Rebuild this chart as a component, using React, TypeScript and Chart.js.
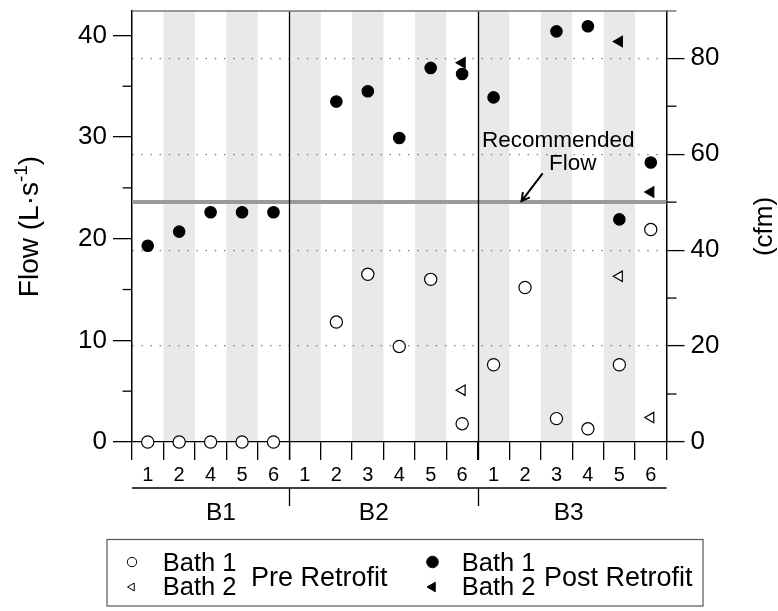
import React, { useEffect, useRef } from 'react';
import { Chart, registerables } from 'chart.js';

Chart.register(...registerables);

// ---------- data ----------
const categories = ['1', '2', '4', '5', '6', '1', '2', '3', '4', '5', '6', '1', '2', '3', '4', '5', '6'];
const groupNames = ['B1', 'B2', 'B3'];
const groupSizes = [5, 6, 6];

const preBath1 = [0, 0, 0, 0, 0, null, 11.8, 16.5, 9.4, 16.0, 1.8, 7.6, 15.2, 2.3, 1.3, 7.6, 20.9];
const preBath2 = [null, null, null, null, null, null, null, null, null, null, 5.1, null, null, null, null, 16.3, 2.4];
const postBath1 = [19.3, 20.7, 22.6, 22.6, 22.6, null, 33.5, 34.5, 29.9, 36.8, 36.2, 33.9, null, 40.4, 40.9, 21.9, 27.5];
const postBath2 = [null, null, null, null, null, null, null, null, null, null, 37.3, null, null, null, null, 39.4, 24.6];

const yTicksLs = [0, 10, 20, 30, 40];
const yMinorLs = [5, 15, 25, 35];
const yTicksCfm = [0, 20, 40, 60, 80];
const yMinorCfm = [10, 30, 50, 70];
const recommendedFlowLs = 23.6;
const CFM_TO_LS = 0.471947;
const yMaxLs = 42.4;

// ---------- layout / style ----------
const W = 778;
const H = 611;
const FONT = "'Liberation Sans', Arial, Helvetica, sans-serif";
const groupLabelPos = [2.33, 7.19, 13.39];
const recTextPos = { x: 10.63, y: 29.0 };
const flowTextPos = { x: 12.76, y: 26.75 };
const arrowFrom = { x: 12.56, y: 26.42 };
const arrowTo = { x: 11.89, y: recommendedFlowLs };

function triPath(ctx: CanvasRenderingContext2D, cx: number, cy: number, r: number) {
  ctx.beginPath();
  ctx.moveTo(cx - r, cy);
  ctx.lineTo(cx + r / 2, cy - r * 0.866);
  ctx.lineTo(cx + r / 2, cy + r * 0.866);
  ctx.closePath();
}

const decor = {
  id: 'decor',
  beforeDraw(chart: any) {
    const { ctx, chartArea: a, scales } = chart;
    const x = scales.x;
    ctx.save();
    ctx.fillStyle = '#e9e9e9';
    categories.forEach((_, i) => {
      if (i % 2 === 1) {
        const l = x.getPixelForValue(i - 0.5);
        const r = x.getPixelForValue(i + 0.5);
        ctx.fillRect(l, a.top, r - l, a.bottom - a.top);
      }
    });
    ctx.restore();
  },
  beforeDatasetsDraw(chart: any) {
    const { ctx, chartArea: a, scales } = chart;
    const x = scales.x;
    const y = scales.y;
    ctx.save();
    const ry = y.getPixelForValue(recommendedFlowLs);
    ctx.strokeStyle = '#9a9a9a';
    ctx.lineWidth = 4;
    ctx.beginPath();
    ctx.moveTo(a.left, ry);
    ctx.lineTo(a.right, ry);
    ctx.stroke();
    ctx.strokeStyle = '#000';
    ctx.lineWidth = 1.3;
    let cum = 0;
    groupSizes.slice(0, -1).forEach((n) => {
      cum += n;
      const px = Math.round(x.getPixelForValue(cum - 0.5)) + 0.5;
      ctx.beginPath();
      ctx.moveTo(px, a.top);
      ctx.lineTo(px, a.bottom + 18);
      ctx.stroke();
    });
    ctx.restore();
  },
  afterDraw(chart: any) {
    const { ctx, chartArea: a, scales } = chart;
    const x = scales.x;
    const y = scales.y;
    const y2 = scales.y2;
    ctx.save();
    ctx.strokeStyle = '#000';
    ctx.lineWidth = 1.3;
    yMinorLs.forEach((v) => {
      const py = y.getPixelForValue(v);
      ctx.beginPath();
      ctx.moveTo(a.left - 9.5, py);
      ctx.lineTo(a.left, py);
      ctx.stroke();
    });
    yMinorCfm.forEach((v) => {
      const py = y2.getPixelForValue(v);
      ctx.beginPath();
      ctx.moveTo(a.right, py);
      ctx.lineTo(a.right + 10, py);
      ctx.stroke();
    });
    ctx.strokeStyle = '#777';
    ctx.lineWidth = 1.5;
    ctx.beginPath();
    ctx.moveTo(a.left, a.top);
    ctx.lineTo(a.right + 10, a.top);
    ctx.stroke();

    ctx.strokeStyle = '#000';
    ctx.lineWidth = 1.3;
    const gy = a.bottom + 46;
    ctx.beginPath();
    ctx.moveTo(a.left, gy);
    ctx.lineTo(a.right, gy);
    ctx.stroke();
    let cum = 0;
    groupSizes.slice(0, -1).forEach((n) => {
      cum += n;
      const px = Math.round(x.getPixelForValue(cum - 0.5)) + 0.5;
      ctx.beginPath();
      ctx.moveTo(px, gy);
      ctx.lineTo(px, gy + 18);
      ctx.stroke();
    });
    ctx.fillStyle = '#000';
    ctx.font = `24.5px ${FONT}`;
    ctx.textAlign = 'center';
    ctx.textBaseline = 'alphabetic';
    groupNames.forEach((g, i) => {
      ctx.fillText(g, x.getPixelForValue(groupLabelPos[i]), a.bottom + 77.5);
    });

    ctx.font = `22.5px ${FONT}`;
    ctx.textAlign = 'left';
    ctx.fillText('Recommended', x.getPixelForValue(recTextPos.x), y.getPixelForValue(recTextPos.y));
    ctx.fillText('Flow', x.getPixelForValue(flowTextPos.x), y.getPixelForValue(flowTextPos.y));
    const ax0 = x.getPixelForValue(arrowFrom.x);
    const ay0 = y.getPixelForValue(arrowFrom.y);
    const ax1 = x.getPixelForValue(arrowTo.x);
    const ay1 = y.getPixelForValue(arrowTo.y) - 1;
    ctx.lineWidth = 2;
    ctx.beginPath();
    ctx.moveTo(ax0, ay0);
    ctx.lineTo(ax1, ay1);
    const ang = Math.atan2(ay1 - ay0, ax1 - ax0);
    const hl = 9;
    ctx.moveTo(ax1 - hl * Math.cos(ang - 0.5), ay1 - hl * Math.sin(ang - 0.5));
    ctx.lineTo(ax1, ay1);
    ctx.lineTo(ax1 - hl * Math.cos(ang + 0.5), ay1 - hl * Math.sin(ang + 0.5));
    ctx.stroke();

    const cy = (a.top + a.bottom) / 2;
    ctx.save();
    ctx.translate(38, cy);
    ctx.rotate(-Math.PI / 2);
    ctx.textAlign = 'left';
    ctx.textBaseline = 'alphabetic';
    const big = `28px ${FONT}`;
    const small = `19px ${FONT}`;
    const p1 = 'Flow (L·s';
    const p2 = '-1';
    const p3 = ')';
    ctx.font = big;
    const w1 = ctx.measureText(p1).width;
    const w3 = ctx.measureText(p3).width;
    ctx.font = small;
    const w2 = ctx.measureText(p2).width;
    let sx = -(w1 + w2 + w3) / 2;
    ctx.font = big;
    ctx.fillText(p1, sx, 0);
    sx += w1;
    ctx.font = small;
    ctx.fillText(p2, sx, -11);
    sx += w2;
    ctx.font = big;
    ctx.fillText(p3, sx, 0);
    ctx.restore();

    ctx.save();
    ctx.translate(772, cy);
    ctx.rotate(-Math.PI / 2);
    ctx.font = `26px ${FONT}`;
    ctx.textAlign = 'center';
    ctx.textBaseline = 'alphabetic';
    ctx.fillText('(cfm)', 0, 0);
    ctx.restore();

    ctx.strokeStyle = '#555';
    ctx.lineWidth = 1.2;
    ctx.strokeRect(107, 539.5, 596, 66.5);
    const ds = chart.data.datasets;
    const groups = [
      { title: 'Pre Retrofit', items: [ds[0], ds[1]], mx: 132, tx: 162.7, gx: 251 },
      { title: 'Post Retrofit', items: [ds[2], ds[3]], mx: 432.5, tx: 461.7, gx: 544 },
    ];
    const rows = [562, 586];
    groups.forEach((g) => {
      g.items.forEach((d: any, k: number) => {
        const ry = rows[k];
        ctx.fillStyle = d.pointBackgroundColor;
        ctx.strokeStyle = '#000';
        ctx.lineWidth = 1;
        if (d.pointStyle === 'circle') {
          ctx.beginPath();
          ctx.arc(g.mx, ry, d.pointBackgroundColor === '#000' ? 5.8 : 4.7, 0, Math.PI * 2);
          ctx.fill();
          ctx.stroke();
        } else {
          triPath(ctx, g.mx, ry + 1, d.pointBackgroundColor === '#000' ? 5.5 : 4.5);
          ctx.fill();
          ctx.stroke();
        }
        ctx.fillStyle = '#000';
        ctx.font = `25.5px ${FONT}`;
        ctx.textAlign = 'left';
        ctx.fillText(d.label, g.tx, ry + 8.5);
      });
      ctx.font = `27px ${FONT}`;
      ctx.fillText(g.title, g.gx, 585.7);
    });
    ctx.restore();
  },
};

function makeDs(label: string, data: (number | null)[], style: string, fill: string, radius: number, order: number) {
  return {
    label,
    data,
    showLine: false,
    xAxisID: 'x',
    yAxisID: 'y',
    clip: false,
    pointStyle: style,
    pointRadius: radius,
    pointRotation: style === 'triangle' ? -90 : 0,
    pointBackgroundColor: fill,
    pointBorderColor: '#000',
    pointBorderWidth: 1.2,
    order,
  };
}

const noPad = (s: any) => {
  s.paddingTop = 0;
  s.paddingBottom = 0;
  s.paddingLeft = 0;
  s.paddingRight = 0;
};

export default function App() {
  const ref = useRef<HTMLCanvasElement | null>(null);
  useEffect(() => {
    if (!ref.current) return;
    Chart.defaults.font.family = FONT;
    const chart = new Chart(ref.current, {
      type: 'line',
      data: {
        labels: categories,
        datasets: [
          makeDs('Bath 1', preBath1, 'circle', '#fff', 6.1, 2),
          makeDs('Bath 2', preBath2, 'triangle', '#fff', 6, 3),
          makeDs('Bath 1', postBath1, 'circle', '#000', 5.7, 0),
          makeDs('Bath 2', postBath2, 'triangle', '#000', 6, 1),
        ] as any,
      },
      options: {
        responsive: false,
        animation: false,
        events: [],
        layout: { padding: { top: 11, left: 0, right: 0, bottom: 0 } },
        plugins: { legend: { display: false }, tooltip: { enabled: false } },
        scales: {
          x: {
            type: 'category',
            position: 'bottom',
            offset: true,
            grid: { offset: true, drawOnChartArea: false, drawTicks: true, tickLength: 18, color: '#000', lineWidth: 1.3 },
            border: { display: true, color: '#000', width: 1.3 },
            ticks: { autoSkip: false, maxRotation: 0, minRotation: 0, color: '#000', font: { size: 20 }, padding: 3 },
            afterFit: (s: any) => { noPad(s); s.height = H - 442; },
          },
          y: {
            type: 'linear',
            position: 'left',
            min: 0,
            max: yMaxLs,
            afterBuildTicks: (s: any) => { s.ticks = yTicksLs.map((v) => ({ value: v })); },
            ticks: { color: '#000', font: { size: 26 }, padding: 6 },
            grid: { drawOnChartArea: false, tickLength: 19, color: '#000', lineWidth: 1.3 },
            border: { color: '#000', width: 1.5 },
            afterFit: (s: any) => { noPad(s); s.width = 132; },
          },
          y2: {
            type: 'linear',
            position: 'right',
            min: 0,
            max: yMaxLs / CFM_TO_LS,
            afterBuildTicks: (s: any) => { s.ticks = yTicksCfm.map((v) => ({ value: v })); },
            ticks: { color: '#000', font: { size: 26 }, padding: 6 },
            grid: {
              drawOnChartArea: true,
              color: (c: any) => (c.tick && c.tick.value === 0 ? 'rgba(0,0,0,0)' : '#7a7a7a'),
              lineWidth: 1.2,
              tickBorderDash: [],
              tickColor: '#000',
              tickWidth: 1.3,
              tickLength: 18,
            },
            border: { color: '#000', width: 1.5, dash: [1.5, 7.7] },
            afterFit: (s: any) => { noPad(s); s.width = W - 666.5; },
          },
        },
      } as any,
      plugins: [decor],
    });
    return () => chart.destroy();
  }, []);
  return (
    <div style={{ position: 'absolute', left: 0, top: 0, width: W, height: H, background: '#fff' }}>
      <canvas ref={ref} width={W} height={H} style={{ display: 'block' }} />
    </div>
  );
}
